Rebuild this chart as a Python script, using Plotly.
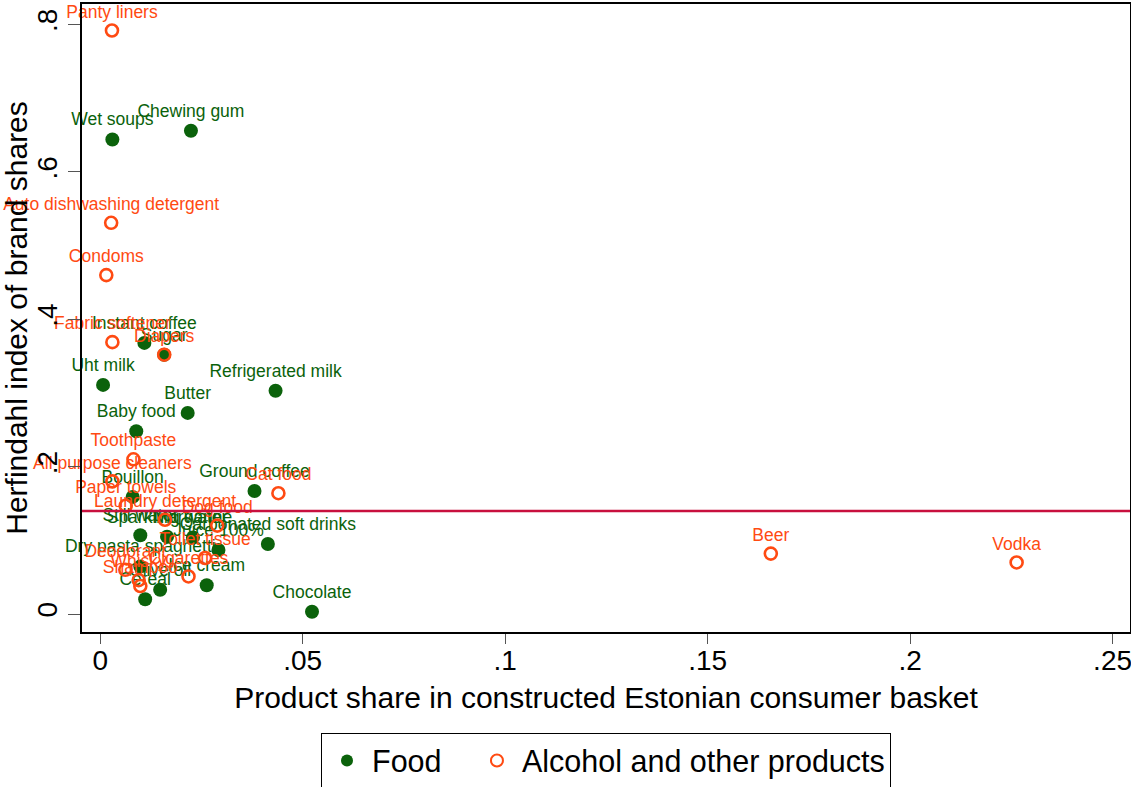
import plotly.graph_objects as go

# Food products (green, filled)
food_names = [
    "Wet soups", "Chewing gum", "Instant coffee", "Sugar", "Uht milk",
    "Refrigerated milk", "Butter", "Baby food", "Bouillon", "Ground coffee",
    "Still water", "Sparkling water", "Margarine", "Juice 100%",
    "Carbonated soft drinks", "Dry pasta spaghetti", "Olive oil", "Cereal",
    "Ice cream", "Chocolate",
]
food_share = [
    0.0030, 0.0224, 0.0109, 0.0158, 0.0007,
    0.0433, 0.0216, 0.0089, 0.0080, 0.0381,
    0.0099, 0.0165, 0.0229, 0.0292,
    0.0414, 0.0099, 0.0148, 0.0111,
    0.0263, 0.0523,
]
food_hhi = [
    0.644, 0.656, 0.368, 0.352, 0.311,
    0.303, 0.273, 0.248, 0.159, 0.167,
    0.107, 0.105, 0.104, 0.087,
    0.095, 0.0645, 0.033, 0.020,
    0.039, 0.003,
]

# Alcohol and other products (orange, hollow)
other_names = [
    "Panty liners", "Auto dishwashing detergent", "Condoms", "Fabric softener",
    "Diapers", "Toothpaste", "All purpose cleaners", "Paper towels",
    "Laundry detergent", "Cat food", "Dog food", "Toilet tissue", "Deodorant",
    "Whisky", "Shampoo", "Cigarettes", "Beer", "Vodka",
]
other_share = [
    0.0029, 0.0027, 0.0015, 0.0030,
    0.0158, 0.0082, 0.0030, 0.0063,
    0.0160, 0.0440, 0.0289, 0.0259, 0.0062,
    0.0095, 0.0099, 0.0218, 0.1656, 0.2263,
]
other_hhi = [
    0.792, 0.531, 0.460, 0.369,
    0.352, 0.210, 0.180, 0.147,
    0.128, 0.164, 0.120, 0.076, 0.060,
    0.046, 0.038, 0.051, 0.082, 0.070,
]

ref_line = 0.14

x_ticks = [0, 0.05, 0.1, 0.15, 0.2, 0.25]
x_ticktext = ["0", ".05", ".1", ".15", ".2", ".25"]
y_ticks = [0, 0.2, 0.4, 0.6, 0.8]
y_ticktext = ["0", ".2", ".4", ".6", ".8"]

GREEN = "#0b620b"
ORANGE = "#ff4a12"
FONT = "Liberation Sans, Arial, sans-serif"

fig = go.Figure()

fig.add_trace(go.Scatter(
    x=food_share, y=food_hhi, text=food_names,
    mode="markers+text", textposition="top center",
    name="Food\u00a0\u00a0\u00a0",
    marker=dict(symbol="circle", size=14, color=GREEN),
    textfont=dict(family=FONT, size=17.5, color=GREEN),
    cliponaxis=False,
))

fig.add_trace(go.Scatter(
    x=other_share, y=other_hhi, text=other_names,
    mode="markers+text", textposition="top center",
    name="Alcohol and other products",
    marker=dict(symbol="circle-open", size=12, color=ORANGE,
                line=dict(width=2.6, color=ORANGE)),
    textfont=dict(family=FONT, size=17.5, color=ORANGE),
    cliponaxis=False,
))

fig.add_hline(y=ref_line, line_color="#c8103e", line_width=2.5)

fig.update_layout(
    width=1131,
    height=787,
    margin=dict(l=82, r=1, t=4, b=155, autoexpand=False),
    paper_bgcolor="white",
    plot_bgcolor="white",
    font=dict(family=FONT, color="black"),
    showlegend=True,
    legend=dict(
        orientation="h",
        x=0.5, xanchor="center",
        y=-0.161, yanchor="top",
        bordercolor="black", borderwidth=1,
        font=dict(size=30.5),
        itemsizing="constant",
        itemwidth=40,
    ),
    xaxis=dict(
        range=[-0.0045, 0.2543],
        tickvals=x_ticks, ticktext=x_ticktext,
        tickfont=dict(size=28),
        ticks="outside", ticklen=10, tickcolor="#555",
        ticklabelstandoff=-7, ticklabeloverflow="allow",
        showgrid=False, zeroline=False, automargin=False,
        showline=True, linecolor="black", linewidth=1.5, mirror=True,
        title=dict(text="Product share in constructed Estonian consumer basket",
                   font=dict(size=30), standoff=12),
    ),
    yaxis=dict(
        range=[-0.0244, 0.828],
        tickvals=y_ticks, ticktext=y_ticktext,
        tickfont=dict(size=28), tickangle=-90,
        ticks="outside", ticklen=12, tickcolor="#555",
        showgrid=False, zeroline=False, automargin=False,
        showline=True, linecolor="black", linewidth=1.5, mirror=True,
        title=dict(text="Herfindahl index of brand shares",
                   font=dict(size=30), standoff=2),
    ),
)

# drop the default 8px page margin so the figure fills the window
fig.write_html(
    "out.html",
    config={"displayModeBar": False},
    post_script="document.body.style.margin='0';",
)
